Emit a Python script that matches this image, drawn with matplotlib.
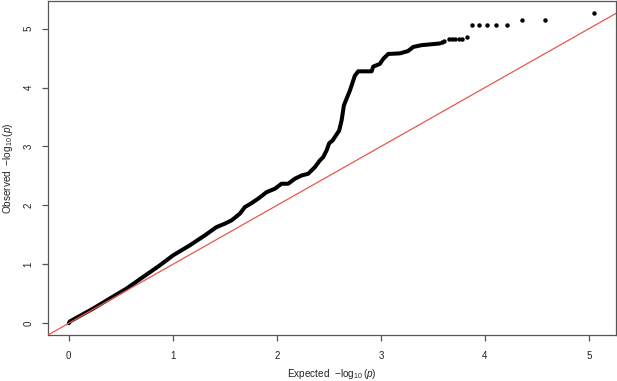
import matplotlib
matplotlib.use("Agg")
import matplotlib.pyplot as plt

plt.rcParams["font.family"] = ["Liberation Sans", "DejaVu Sans"]
plt.rcParams["mathtext.fontset"] = "custom"
plt.rcParams["mathtext.rm"] = "Liberation Sans"
plt.rcParams["mathtext.it"] = "Liberation Sans:italic"

# dense part of the QQ trace (expected, observed)
trace_x = [0.0, 0.01, 0.234, 0.394, 0.555, 0.714, 0.875, 1.003, 1.163, 1.308,
           1.420, 1.500, 1.564, 1.644, 1.692, 1.757, 1.820, 1.901, 1.981, 2.045,
           2.109, 2.173, 2.238, 2.301, 2.365, 2.413, 2.445, 2.478, 2.503, 2.536,
           2.567, 2.599, 2.622, 2.632, 2.644, 2.663, 2.702, 2.734, 2.750, 2.782,
           2.911, 2.926, 2.990, 3.022, 3.070, 3.183, 3.26, 3.29, 3.31, 3.39, 3.57]
trace_y = [0.0, 0.03, 0.249, 0.419, 0.588, 0.785, 0.983, 1.153, 1.322, 1.492,
           1.632, 1.690, 1.746, 1.859, 1.971, 2.039, 2.114, 2.225, 2.283, 2.368,
           2.368, 2.453, 2.508, 2.537, 2.649, 2.763, 2.819, 2.932, 3.056, 3.102,
           3.186, 3.271, 3.441, 3.554, 3.695, 3.780, 3.949, 4.119, 4.203, 4.276,
           4.276, 4.356, 4.402, 4.486, 4.571, 4.581, 4.62, 4.66, 4.69, 4.72, 4.75]

# sparse top points
top_x = [3.59, 3.61, 3.65, 3.68, 3.71, 3.75, 3.78, 3.83, 3.88, 3.94, 4.02,
         4.11, 4.21, 4.36, 4.58, 5.05]
top_y = [4.77, 4.79, 4.82, 4.82, 4.82, 4.82, 4.82, 4.86, 5.07, 5.07, 5.07,
         5.07, 5.07, 5.14, 5.15, 5.26]

xticks = [0, 1, 2, 3, 4, 5]
yticks = [0, 1, 2, 3, 4, 5]

fig = plt.figure(figsize=(6.17, 3.81), dpi=100)
ax = fig.add_axes([48 / 617, 46 / 381, 568 / 617, 334 / 381])

ax.plot(trace_x, trace_y, color="black", lw=2.9, solid_capstyle="round",
        solid_joinstyle="round")
ax.plot(top_x, top_y, "o", color="black", ms=3.2, mew=0)
ax.axline((0, 0), slope=1, color="#e8584a", lw=0.9, zorder=3)

ax.set_xlim(-0.2, 5.26)
ax.set_ylim(-0.2, 5.47)
ax.set_xticks(xticks)
ax.set_yticks(yticks)
ax.set_yticklabels([str(t) for t in yticks], rotation=90, va="center")

for s in ax.spines.values():
    s.set_color("#555555")
    s.set_linewidth(0.9)
ax.tick_params(colors="#555555", labelcolor="#222222", length=4.5, width=0.9,
               labelsize=7)
ax.tick_params(axis="x", pad=7)
ax.tick_params(axis="y", pad=6)

ax.set_xlabel(r"Expected  $-\log_{10}(p)$", fontsize=7.2, color="#222222", labelpad=4)
ax.set_ylabel(r"Observed  $-\log_{10}(p)$", fontsize=7.2, color="#222222", labelpad=6)

fig.savefig("out.png", dpi=100)
